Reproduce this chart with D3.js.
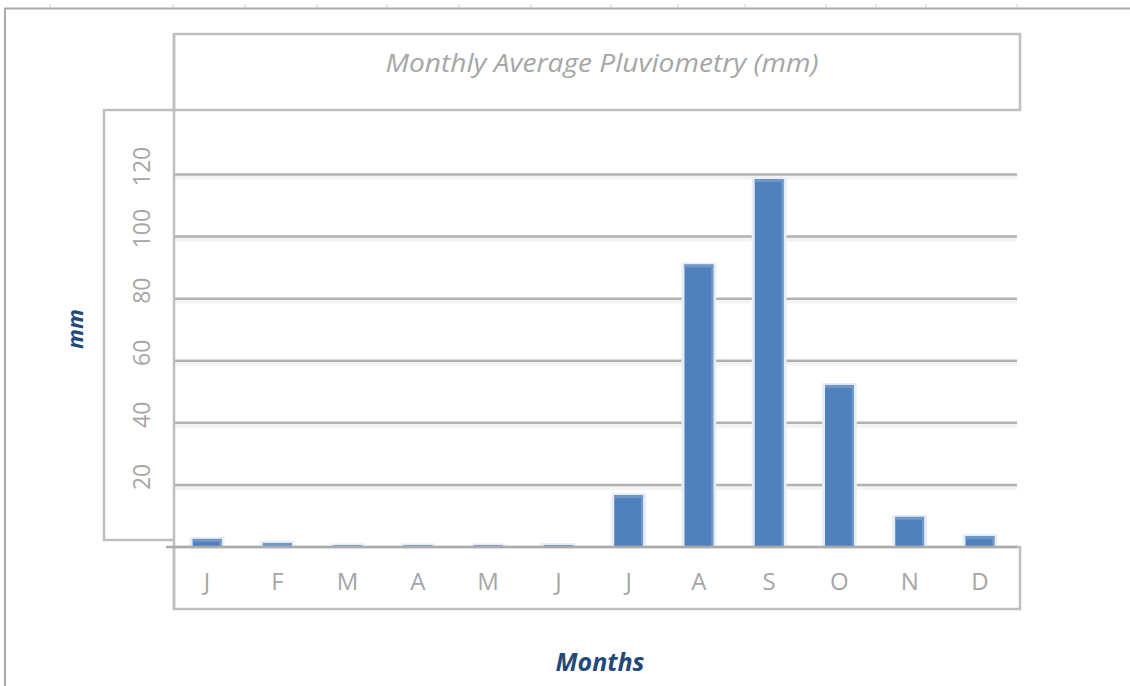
<!DOCTYPE html>
<html>
<head>
<meta charset="utf-8">
<script src="https://cdn.jsdelivr.net/npm/d3@7"></script>
<style>
  html, body { margin: 0; padding: 0; background: #fff; }
  svg { display: block; }
  text { font-family: "Open Sans", "Liberation Sans", sans-serif; }
</style>
</head>
<body>
<svg id="chart" width="1130" height="686"></svg>
<script>
// Monthly average rainfall (mm)
const months = ["J", "F", "M", "A", "M", "J", "J", "A", "S", "O", "N", "D"];
const rainfall = [2.6, 1.3, 0.5, 0.5, 0.5, 0.6, 16.7, 91, 118.5, 52.2, 9.7, 3.5];
const yTicks = [20, 40, 60, 80, 100, 120];
const titleText = "Monthly Average Pluviometry (mm)";
const yTitle = "mm";
const xTitle = "Months";

(function draw() {
  const svg = d3.select("#chart");
  const W = 1130, H = 686;

  const frameColor = "#bfbfbf";
  const gridColor = "#b1b1b1";
  const labelColor = "#a6a6a6";
  const titleBlue = "#1f497d";
  const barColor = "#4f81bd";

  // plot region
  const plotLeft = 174, plotRight = 1018, plotBottom = 547;

  const x = d3.scaleBand()
    .domain(d3.range(months.length))
    .range([173, 1014])
    .paddingInner(0.59)
    .paddingOuter(0.28);

  const y = d3.scaleLinear().domain([0, 120]).range([plotBottom, 174.5]);

  svg.append("rect").attr("width", W).attr("height", H).attr("fill", "#fff");

  // sheet frame along the top and left
  svg.append("line").attr("x1", 4).attr("x2", W).attr("y1", 8.5).attr("y2", 8.5)
    .attr("stroke", "#a9a9a9").attr("stroke-width", 2);
  svg.append("line").attr("x1", 5).attr("x2", 5).attr("y1", 8).attr("y2", H)
    .attr("stroke", "#a9a9a9").attr("stroke-width", 2);
  const colMarks = [50, 173, 245, 317, 387, 459, 531, 611, 678, 745, 826, 876, 926, 1017];
  svg.append("g").selectAll("line").data(colMarks).join("line")
    .attr("x1", d => d).attr("x2", d => d).attr("y1", 4).attr("y2", 8)
    .attr("stroke", "#d0d0d0").attr("stroke-width", 1);

  // gridlines with a soft shadow beneath
  const grid = svg.append("g");
  grid.selectAll("rect.shade").data(yTicks).join("rect")
    .attr("class", "shade")
    .attr("x", plotLeft).attr("width", plotRight - plotLeft - 1)
    .attr("y", d => y(d) + 1).attr("height", 4)
    .attr("fill", "#f3f3f3");
  grid.selectAll("line").data(yTicks).join("line")
    .attr("x1", plotLeft).attr("x2", plotRight - 1)
    .attr("y1", d => y(d)).attr("y2", d => y(d))
    .attr("stroke", gridColor).attr("stroke-width", 2.5);

  // title box
  svg.append("rect").attr("x", plotLeft).attr("y", 34).attr("width", 846).attr("height", 76)
    .attr("fill", "none").attr("stroke", frameColor).attr("stroke-width", 2.5);
  svg.append("text")
    .attr("x", 602).attr("y", 72)
    .attr("text-anchor", "middle")
    .attr("font-size", 26).attr("font-style", "italic")
    .attr("fill", labelColor)
    .attr("textLength", 433).attr("lengthAdjust", "spacingAndGlyphs")
    .text(titleText);

  // y tick label box
  svg.append("path")
    .attr("d", `M${plotLeft},110 H104 V540 H${plotLeft}`)
    .attr("fill", "none").attr("stroke", frameColor).attr("stroke-width", 2.5);

  // x category box
  svg.append("rect").attr("x", plotLeft).attr("y", plotBottom).attr("width", 846).attr("height", 62)
    .attr("fill", "none").attr("stroke", frameColor).attr("stroke-width", 2.5);

  // left plot edge
  svg.append("line").attr("x1", plotLeft).attr("x2", plotLeft).attr("y1", 34).attr("y2", 609)
    .attr("stroke", frameColor).attr("stroke-width", 2.5);

  // bars: soft halo, body, lighter edge and cap
  const bars = svg.append("g");
  bars.selectAll("rect.halo").data(rainfall).join("rect")
    .attr("class", "halo")
    .attr("x", (d, i) => x(i) - 3).attr("width", x.bandwidth() + 6)
    .attr("y", d => y(d) - 2).attr("height", d => plotBottom - y(d) + 2)
    .attr("fill", "#e6edf6");
  bars.selectAll("rect.body").data(rainfall).join("rect")
    .attr("class", "body")
    .attr("x", (d, i) => x(i)).attr("width", x.bandwidth())
    .attr("y", d => y(d)).attr("height", d => plotBottom - y(d))
    .attr("fill", barColor);
  bars.selectAll("rect.edge").data(rainfall).join("rect")
    .attr("class", "edge")
    .attr("x", (d, i) => x(i) + x.bandwidth() - 2).attr("width", 2)
    .attr("y", d => y(d)).attr("height", d => plotBottom - y(d))
    .attr("fill", "#7399c9");
  bars.selectAll("rect.cap").data(rainfall).join("rect")
    .attr("class", "cap")
    .attr("x", (d, i) => x(i)).attr("width", x.bandwidth())
    .attr("y", d => y(d)).attr("height", d => Math.min(3, plotBottom - y(d)))
    .attr("fill", "#7096c8");

  // baseline axis
  svg.append("line").attr("x1", 166).attr("x2", plotRight - 1).attr("y1", plotBottom).attr("y2", plotBottom)
    .attr("stroke", "#ababab").attr("stroke-width", 2.5);

  // y tick labels, rotated
  svg.append("g").selectAll("text").data(yTicks).join("text")
    .attr("transform", d => `translate(150,${y(d) - 8}) rotate(-90)`)
    .attr("text-anchor", "middle")
    .attr("font-size", 23)
    .attr("fill", labelColor)
    .text(d => d);

  // month labels
  svg.append("g").selectAll("text").data(months).join("text")
    .attr("x", (d, i) => x(i) + x.bandwidth() / 2)
    .attr("y", 590)
    .attr("text-anchor", "middle")
    .attr("font-size", 24)
    .attr("fill", labelColor)
    .text(d => d);

  // axis titles
  svg.append("text")
    .attr("transform", "translate(83,329) rotate(-90)")
    .attr("text-anchor", "middle")
    .attr("font-size", 22).attr("font-weight", "bold").attr("font-style", "italic")
    .attr("fill", titleBlue)
    .text(yTitle);
  svg.append("text")
    .attr("x", 600).attr("y", 671)
    .attr("text-anchor", "middle")
    .attr("font-size", 25).attr("font-weight", "bold").attr("font-style", "italic")
    .attr("fill", titleBlue)
    .text(xTitle);
})();
</script>
</body>
</html>
